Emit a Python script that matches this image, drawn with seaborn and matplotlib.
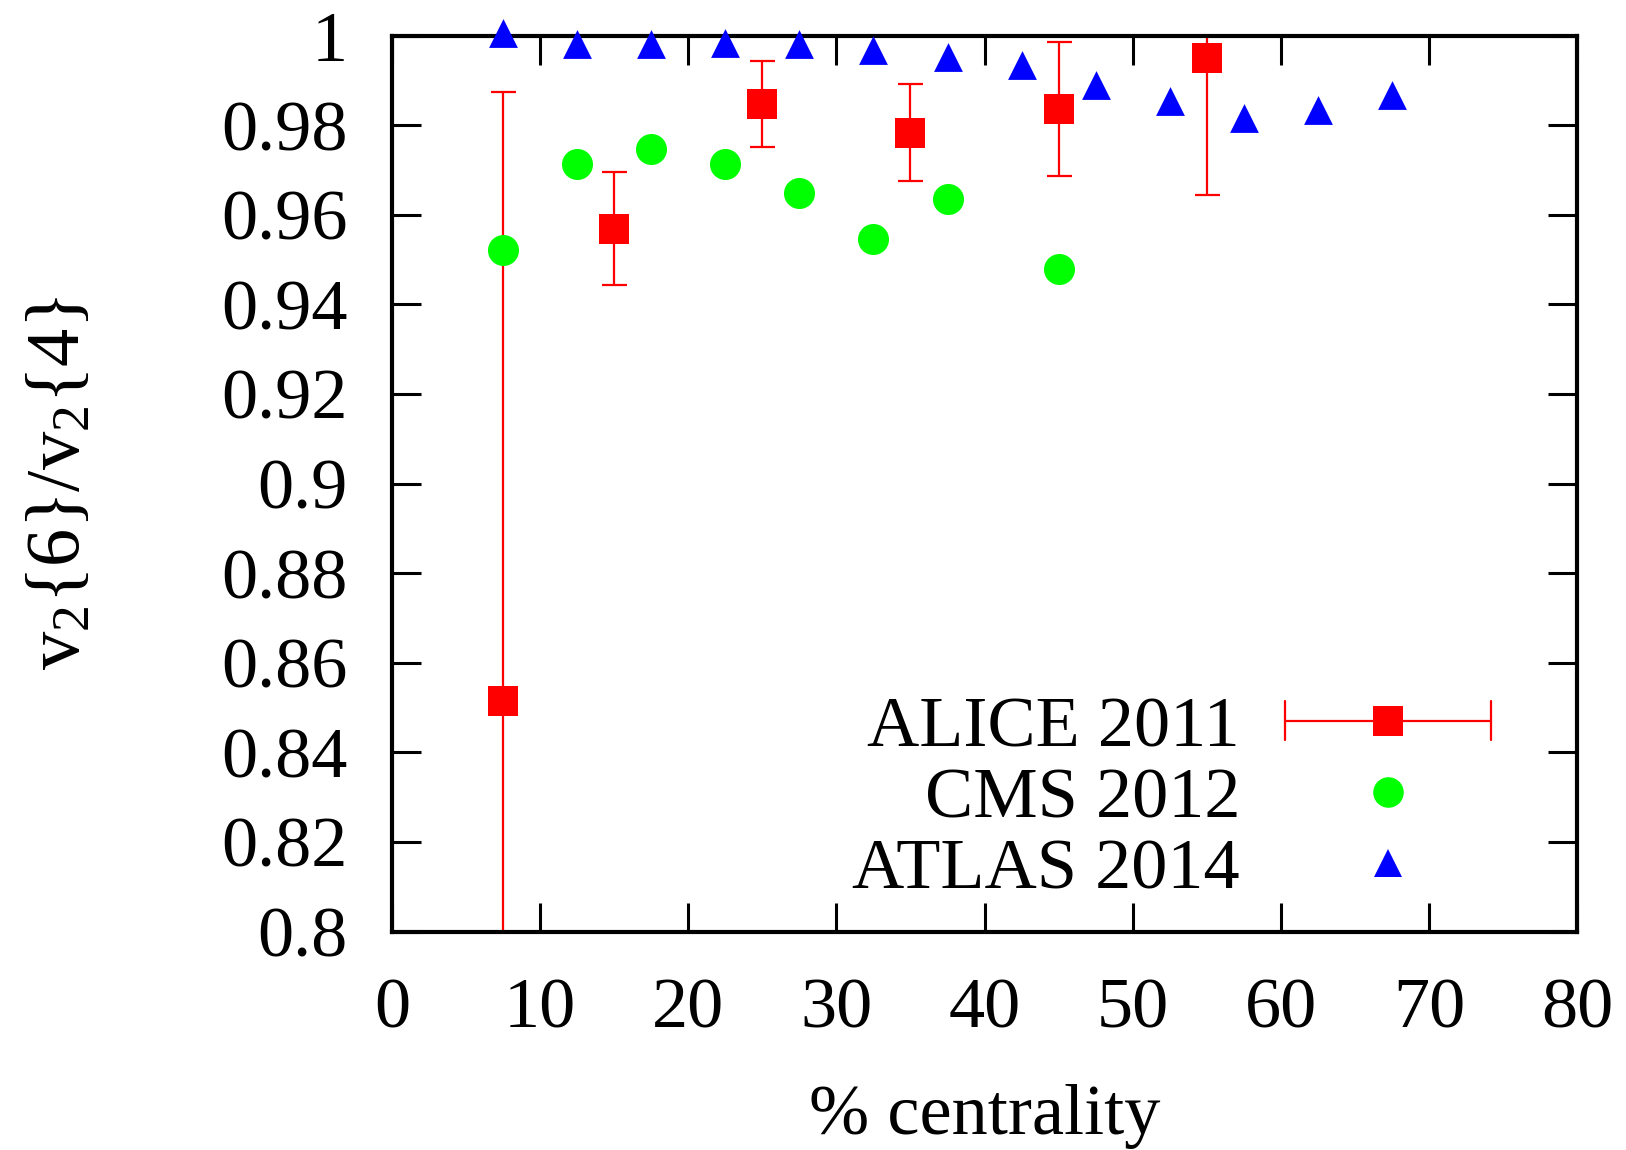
import matplotlib
matplotlib.use("Agg")
import matplotlib.pyplot as plt
import seaborn as sns
import pandas as pd
from matplotlib.lines import Line2D
from matplotlib.legend_handler import HandlerBase

# ALICE 2011 (with symmetric uncertainties)
alice_cent = [7.5, 15, 25, 35, 45, 55]
alice_ratio = [0.8515, 0.9569, 0.9848, 0.9783, 0.9836, 0.9951]
alice_err = [0.136, 0.0126, 0.0096, 0.0108, 0.0150, 0.0306]

# CMS 2012
cms_cent = [7.5, 12.5, 17.5, 22.5, 27.5, 32.5, 37.5, 45]
cms_ratio = [0.9521, 0.9714, 0.9748, 0.9714, 0.9649, 0.9547, 0.9635, 0.9480]

# ATLAS 2014
atlas_cent = [7.5, 12.5, 17.5, 22.5, 27.5, 32.5, 37.5, 42.5, 47.5, 52.5, 57.5, 62.5, 67.5]
atlas_ratio = [1.0005, 0.9981, 0.9981, 0.9983, 0.9981, 0.9968, 0.9952, 0.9935,
               0.9890, 0.9853, 0.9816, 0.9834, 0.9868]

x_ticks = [0, 10, 20, 30, 40, 50, 60, 70, 80]
y_ticks = [0.8, 0.82, 0.84, 0.86, 0.88, 0.9, 0.92, 0.94, 0.96, 0.98, 1.0]
y_tick_labels = ["0.8", "0.82", "0.84", "0.86", "0.88", "0.9", "0.92", "0.94", "0.96", "0.98", "1"]

RED, GREEN, BLUE = "#ff0000", "#00ff00", "#0000ff"
FS = 52

sns.set_theme(style="ticks")
plt.rcParams["font.family"] = ["Liberation Serif", "DejaVu Serif"]
plt.rcParams["mathtext.default"] = "regular"
plt.rcParams["mathtext.fontset"] = "custom"
plt.rcParams["mathtext.rm"] = "Liberation Serif"

fig = plt.figure(figsize=(16.26, 11.5), dpi=100)
ax = fig.add_axes([0.241, 0.190, 0.729, 0.779])

alice_df = pd.DataFrame({"cent": alice_cent, "ratio": alice_ratio, "err": alice_err})
cms_df = pd.DataFrame({"cent": cms_cent, "ratio": cms_ratio})
atlas_df = pd.DataFrame({"cent": atlas_cent, "ratio": atlas_ratio})

ax.errorbar(alice_df["cent"], alice_df["ratio"], yerr=alice_df["err"], fmt="none",
            ecolor=RED, elinewidth=1.6, capsize=9, capthick=1.6, zorder=2)
sns.scatterplot(data=alice_df, x="cent", y="ratio", marker="s", s=480, color=RED,
                linewidth=0, ax=ax, zorder=3, clip_on=False)
sns.scatterplot(data=cms_df, x="cent", y="ratio", marker="o", s=500, color=GREEN,
                linewidth=0, ax=ax, zorder=3, clip_on=False)
sns.scatterplot(data=atlas_df, x="cent", y="ratio", marker="^", s=430, color=BLUE,
                linewidth=0, ax=ax, zorder=3, clip_on=False)

ax.set_xlim(0, 80)
ax.set_ylim(0.8, 1.0)
ax.set_xticks(x_ticks)
ax.set_xticklabels([str(t) for t in x_ticks])
ax.set_yticks(y_ticks)
ax.set_yticklabels(y_tick_labels)
ax.tick_params(axis="both", direction="in", length=21, width=2.2, labelsize=FS,
               top=True, right=True, color="black", labelcolor="black")
ax.tick_params(axis="y", pad=32)
ax.tick_params(axis="x", pad=33)
for sp in ax.spines.values():
    sp.set_visible(True)
    sp.set_linewidth(3.0)
    sp.set_color("black")

ax.set_xlabel("% centrality", fontsize=FS, labelpad=30, color="black")
ax.set_ylabel("v$_2${6}/v$_2${4}", fontsize=55, labelpad=90, color="black")


class HorizontalErrorHandler(HandlerBase):
    """Legend key: horizontal bar with end caps and a marker in the middle."""

    def create_artists(self, legend, orig_handle, xdescent, ydescent,
                       width, height, fontsize, trans):
        y = height / 2 - ydescent
        x0, x1 = -xdescent, width - xdescent
        cap = 0.27 * fontsize
        col = orig_handle.get_color()
        lw = orig_handle.get_linewidth()
        bar = Line2D([x0, x1], [y, y], color=col, lw=lw)
        c_left = Line2D([x0, x0], [y - cap, y + cap], color=col, lw=lw)
        c_right = Line2D([x1, x1], [y - cap, y + cap], color=col, lw=lw)
        mark = Line2D([(x0 + x1) / 2], [y], marker=orig_handle.get_marker(),
                      markersize=orig_handle.get_markersize(), color=col,
                      markeredgewidth=0, linestyle="none")
        arts = [bar, c_left, c_right, mark]
        for a in arts:
            a.set_transform(trans)
        return arts


h_alice = Line2D([], [], color=RED, lw=1.6, marker="s", markersize=21.5)
h_cms = Line2D([], [], color=GREEN, marker="o", markersize=22, markeredgewidth=0, linestyle="none")
h_atlas = Line2D([], [], color=BLUE, marker="^", markersize=20, markeredgewidth=0, linestyle="none")

ax.legend([h_alice, h_cms, h_atlas], ["ALICE 2011", "CMS 2012", "ATLAS 2014"],
          handler_map={h_alice: HorizontalErrorHandler()},
          loc="lower right", bbox_to_anchor=(0.927, 0.031), frameon=False,
          markerfirst=False, fontsize=FS, handlelength=2.85, handletextpad=0.62,
          labelspacing=0.08, borderpad=0, borderaxespad=0, labelcolor="black")

fig.savefig("out.png", dpi=100, facecolor="white")
